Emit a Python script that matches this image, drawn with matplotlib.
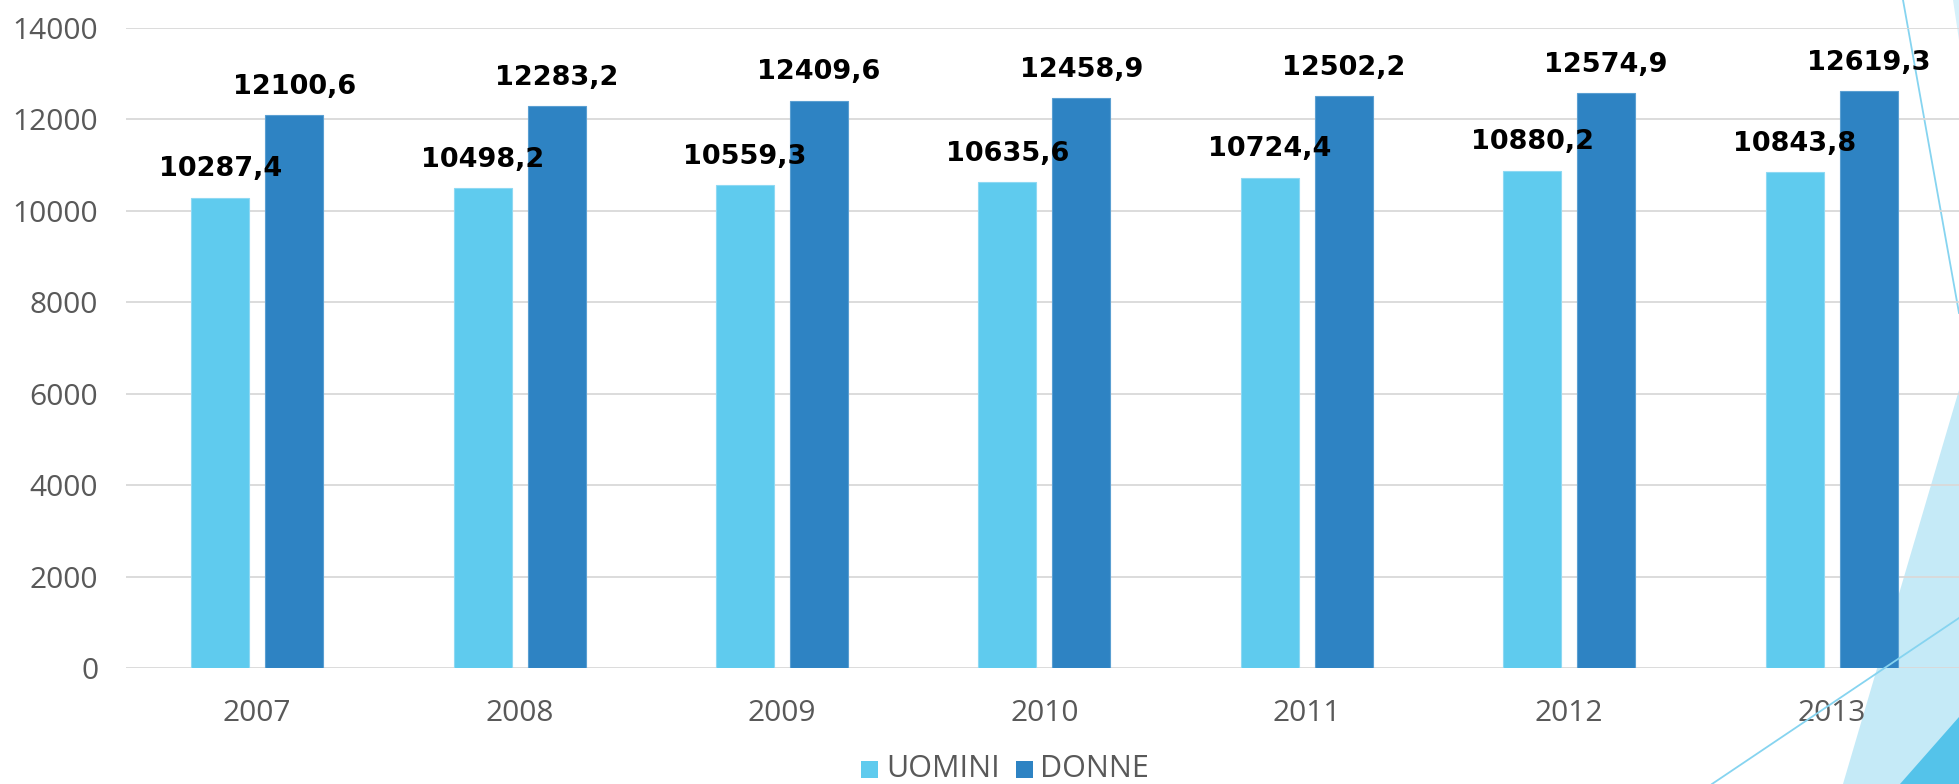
import matplotlib
matplotlib.use("Agg")
import matplotlib.pyplot as plt
from matplotlib.patches import Polygon, Rectangle
from matplotlib.lines import Line2D

years = ["2007", "2008", "2009", "2010", "2011", "2012", "2013"]
uomini = [10287.4, 10498.2, 10559.3, 10635.6, 10724.4, 10880.2, 10843.8]
donne = [12100.6, 12283.2, 12409.6, 12458.9, 12502.2, 12574.9, 12619.3]
series_names = ["UOMINI", "DONNE"]
colors = ["#5FCBEE", "#2E83C3"]
yticks = [0, 2000, 4000, 6000, 8000, 10000, 12000, 14000]

W, H = 1959, 784
fig = plt.figure(figsize=(W / 100, H / 100), dpi=100)
fig.patch.set_facecolor("white")

def fx(px):
    return px / W

def fy(py):
    return 1 - py / H

# decorative theme shapes (figure background)
deco_light = Polygon([(fx(1959), fy(390)), (fx(1843), fy(784)), (fx(1959), fy(784))],
                     closed=True, transform=fig.transFigure, facecolor="#C5EAF7",
                     edgecolor="none", zorder=-2)
deco_dark = Polygon([(fx(1959), fy(717)), (fx(1900), fy(784)), (fx(1959), fy(784))],
                    closed=True, transform=fig.transFigure, facecolor="#54C3EA",
                    edgecolor="none", zorder=-1.5)
deco_top = Polygon([(fx(1953), fy(0)), (fx(1959), fy(0)), (fx(1959), fy(40))],
                   closed=True, transform=fig.transFigure, facecolor="#D6F0FA",
                   edgecolor="none", zorder=-2)
for p in (deco_light, deco_dark, deco_top):
    fig.add_artist(p)
fig.add_artist(Line2D([fx(1903), fx(1959)], [fy(0), fy(313)], transform=fig.transFigure,
                      color="#86D4F0", lw=1.3, zorder=-1))
fig.add_artist(Line2D([fx(1712), fx(1959)], [fy(784), fy(618)], transform=fig.transFigure,
                      color="#86D4F0", lw=1.3, zorder=3))

left_px, right_px = 126, 1959
top_px, bot_px = 28, 668
ax = fig.add_axes([fx(left_px), fy(bot_px), fx(right_px - left_px), (bot_px - top_px) / H])
ax.patch.set_alpha(0)
ax.set_zorder(0)

spacing = 262.4
x = list(range(len(years)))
bw = 58 / spacing
off = 37 / spacing
ax.bar([i - off for i in x], uomini, width=bw, color=colors[0], edgecolor="#8ED9F3",
       linewidth=0.8, zorder=2)
ax.bar([i + off for i in x], donne, width=bw, color=colors[1], edgecolor="#5A9FD2",
       linewidth=0.8, zorder=2)

ax.set_xlim(-0.5, -0.5 + (right_px - left_px) / spacing)
ax.set_ylim(0, 14000)
ax.set_yticks(yticks)
ax.set_yticklabels([str(v) for v in yticks])
ax.set_xticks(x)
ax.set_xticklabels(years)
ax.yaxis.grid(True, color="#D9D9D9", linewidth=1.3, zorder=0)
ax.set_axisbelow(True)
for s in ax.spines.values():
    s.set_visible(False)
ax.tick_params(axis="both", length=0, labelcolor="#595959", labelsize=21.5)
ax.tick_params(axis="y", pad=20)
ax.tick_params(axis="x", pad=22)
for lab in ax.get_xticklabels() + ax.get_yticklabels():
    lab.set_fontfamily("Open Sans")

def fmt(v):
    return f"{v:.1f}".replace(".", ",")

for i in x:
    ax.annotate(fmt(uomini[i]), (i - off, uomini[i]), xytext=(0, 11), textcoords="offset points",
                ha="center", va="bottom", fontsize=19.5, fontweight="bold", color="black",
                family="DejaVu Sans", zorder=4)
    ax.annotate(fmt(donne[i]), (i + off, donne[i]), xytext=(0, 11), textcoords="offset points",
                ha="center", va="bottom", fontsize=19.5, fontweight="bold", color="black",
                family="DejaVu Sans", zorder=4)

# legend
sq = 17
leg_items = [(861, 886), (1016, 1040)]
for (sx, tx), name, c in zip(leg_items, series_names, colors):
    fig.add_artist(Rectangle((fx(sx), fy(778)), fx(sq), sq / H, transform=fig.transFigure,
                             facecolor=c, edgecolor="none"))
    fig.text(fx(tx), fy(769), name, ha="left", va="center", fontsize=22,
             color="#595959", family="Open Sans")

fig.savefig("out.png", dpi=100)
